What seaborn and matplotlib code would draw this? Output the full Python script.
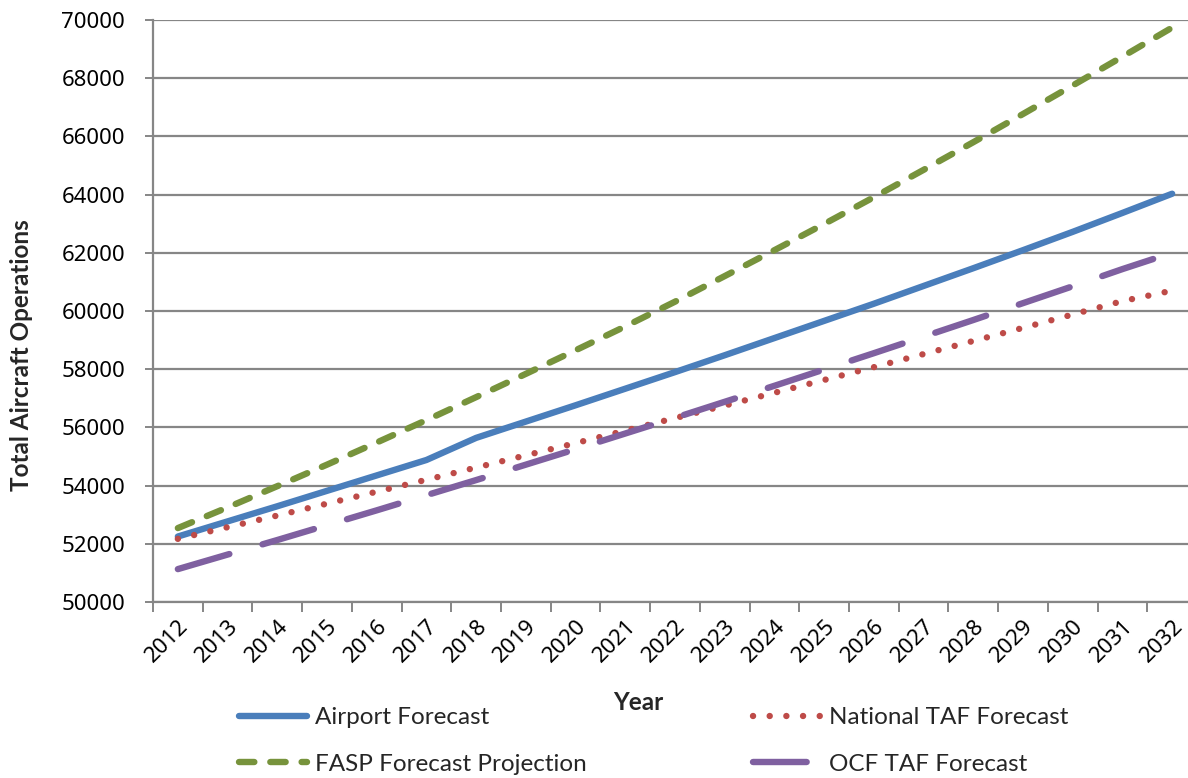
import numpy as np
import pandas as pd
import seaborn as sns
import matplotlib.pyplot as plt
from matplotlib.lines import Line2D
import matplotlib.transforms as mtransforms

# Forecast years and annual operations per forecast source
years = list(range(2012, 2033))
airport_forecast = [52250, 52770, 53290, 53820, 54350, 54880, 55640, 56200, 56760, 57330,
                    57900, 58480, 59070, 59660, 60250, 60860, 61470, 62090, 62720, 63370, 64030]
national_taf = [52170, 52570, 52970, 53380, 53790, 54200, 54620, 55040, 55460, 55890,
                56320, 56750, 57190, 57630, 58070, 58520, 58970, 59420, 59880, 60340, 60700]
fasp_projection = [52540, 53250, 53980, 54720, 55480, 56250, 57040, 57840, 58650, 59470,
                   60320, 61200, 62090, 62990, 63910, 64850, 65800, 66770, 67750, 68740, 69740]
ocf_taf = [51130, 51630, 52130, 52640, 53150, 53670, 54190, 54720, 55250, 55790,
           56330, 56880, 57430, 57990, 58550, 59120, 59690, 60270, 60850, 61440, 62000]

y_ticks = list(range(50000, 70001, 2000))

sns.set_style("white")
plt.rcParams['font.family'] = ['Lato', 'DejaVu Sans']
TICK_FONT = ['Noto Sans', 'DejaVu Sans']

W, H = 1188, 778
fig = plt.figure(figsize=(W / 100, H / 100), dpi=100)
ax = fig.add_axes([153 / W, 1 - 602 / H, (1197 - 153) / W, (602 - 20) / H])

LW = 4.6
series = [
    ("Airport Forecast", airport_forecast, "#4A7EBB", "-"),
    ("National TAF Forecast", national_taf, "#BE4B48", (0, (0.01, 2.6))),
    ("FASP Forecast Projection", fasp_projection, "#77933C", (0, (2.4, 2.5))),
    ("OCF TAF Forecast", ocf_taf, "#7F60A0", (0, (8.4, 5.4))),
]

df = pd.DataFrame({"Year": years})
handles = []
for i, (name, vals, color, ls) in enumerate(series):
    df[name] = vals
    sns.lineplot(data=df, x="Year", y=name, ax=ax, color=color, linewidth=LW,
                 linestyle=ls, dash_capstyle="round", solid_capstyle="round",
                 solid_joinstyle="round", zorder=3 + i)
    handles.append(Line2D([0], [0], color=color, linewidth=LW, linestyle=ls,
                          dash_capstyle="round", solid_capstyle="round"))

ax.set_xlim(years[0] - 0.5, years[-1] + 0.5)
ax.set_ylim(y_ticks[0], y_ticks[-1])
ax.set_yticks(y_ticks)
ax.set_yticklabels([str(v) for v in y_ticks], fontfamily=TICK_FONT, fontsize=16)
ax.set_xticks(years)
ax.set_xticks([y - 0.5 for y in years] + [years[-1] + 0.5], minor=True)
ax.set_xticklabels([str(y) for y in years], rotation=45, ha="right",
                   rotation_mode="anchor", fontfamily=TICK_FONT, fontsize=16)
offset = mtransforms.ScaledTranslation(10 / 100, -4 / 100, fig.dpi_scale_trans)
for lab in ax.get_xticklabels():
    lab.set_transform(lab.get_transform() + offset)

grid_c = "#868686"
ax.yaxis.grid(True, color=grid_c, linewidth=1.6, zorder=1)
ax.xaxis.grid(False)
ax.set_axisbelow(True)
for side in ("top", "right"):
    ax.spines[side].set_visible(False)
for side in ("left", "bottom"):
    ax.spines[side].set_color(grid_c)
    ax.spines[side].set_linewidth(1.6)

ax.tick_params(axis="y", which="major", left=True, length=6, width=1.4,
               color=grid_c, pad=14, labelcolor="black")
ax.tick_params(axis="x", which="major", bottom=True, length=0,
               pad=10, labelcolor="black")
ax.tick_params(axis="x", which="minor", bottom=True, length=7, width=1.4,
               color=grid_c)

ax.set_xlabel("")
ax.set_ylabel("")
fig.text(22 / W, 1 - 355 / H, "Total Aircraft Operations", rotation=90,
         ha="center", va="center", fontsize=17.5, fontweight="bold")
fig.text(638 / W, 1 - 703 / H, "Year", ha="center", va="center",
         fontsize=17.5, fontweight="bold")

leg_kw = dict(frameon=False, fontsize=17.5, handlelength=2.8, handletextpad=0.33,
              labelspacing=1.05, borderpad=0, borderaxespad=0, loc="upper left")
leg1 = fig.legend([handles[0], handles[2]], [series[0][0], series[2][0]],
                  bbox_to_anchor=(239 / W, 1 - 707 / H), **leg_kw)
leg2 = fig.legend([handles[1], handles[3]], [series[1][0], series[3][0]],
                  bbox_to_anchor=(753 / W, 1 - 707 / H), **leg_kw)

fig.savefig("out.png", dpi=100)
